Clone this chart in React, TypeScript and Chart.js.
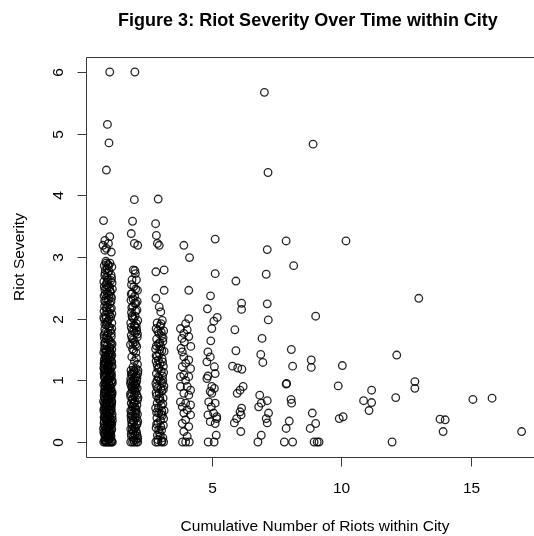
import React, { useEffect, useRef } from "react";
import { Chart, registerables } from "chart.js";

Chart.register(...registerables);

const chartTitle = "Figure 3: Riot Severity Over Time within City";
const xAxisTitle = "Cumulative Number of Riots within City";
const yAxisTitle = "Riot Severity";

const xTicks = [5, 10, 15];
const yTicks = [0, 1, 2, 3, 4, 5, 6];

// [cumulative riots (jittered), severity]
const firstRiot: [number, number][] = [
  [1.07, 6.0], [0.98, 5.15], [1.04, 4.85], [0.94, 4.41], [0.83, 3.59],
  [0.88, 3.27], [1.07, 3.33], [0.81, 3.19], [0.94, 3.14], [1.13, 3.08], [0.88, 3.11], [1.02, 3.22],
  [0.92, 2.93], [1.08, 2.9], [0.86, 2.86], [1.15, 2.84], [0.97, 2.81], [1.04, 2.77], [0.89, 2.74],
  [1.12, 2.71], [0.95, 2.67], [1.01, 2.63], [0.84, 2.6], [1.16, 2.58], [0.93, 2.55], [1.06, 2.51],
  [0.88, 2.47], [1.1, 2.44], [0.98, 2.41], [0.85, 2.37], [1.14, 2.34], [1.02, 2.31], [0.91, 2.27],
  [1.07, 2.24], [0.87, 2.2], [1.13, 2.17], [0.96, 2.13], [1.03, 2.1], [0.9, 2.06], [1.11, 2.03],
  [0.86, 1.99], [0.99, 1.96], [1.15, 1.93], [0.94, 1.9], [1.06, 1.86], [0.88, 1.83], [1.1, 1.8],
  [1.0, 1.77], [0.85, 1.74], [1.13, 1.71], [0.93, 1.68], [1.05, 1.65], [0.89, 1.62], [1.16, 1.59],
  [0.97, 1.56], [1.08, 1.53], [0.87, 1.51],
  [1.0, 2.88], [0.9, 2.79], [1.11, 2.62], [0.95, 2.49], [1.04, 2.38], [0.87, 2.29], [1.09, 2.15],
  [0.93, 2.01], [1.02, 1.87], [0.86, 1.69], [1.12, 1.57],
  [1.03, 2.86], [0.88, 2.7], [1.14, 2.66], [0.96, 2.59], [1.07, 2.45], [0.9, 2.4], [1.12, 2.28],
  [0.98, 2.22], [0.85, 2.12], [1.05, 2.0], [0.95, 1.94], [1.15, 1.84], [0.9, 1.78], [1.0, 1.66],
  [1.1, 1.62], [0.88, 1.56], [1.04, 1.52], [0.93, 2.9], [1.17, 2.48], [0.84, 2.02],
  [0.99, 2.74], [0.86, 2.52], [1.1, 2.36], [0.94, 2.18], [1.06, 2.07], [0.88, 1.91], [1.13, 1.76],
  [0.96, 1.72], [1.01, 2.53], [0.92, 2.33], [1.15, 2.08], [0.87, 1.6],
  [0.95, 1.49], [1.09, 1.47], [0.84, 1.45], [1.02, 1.43], [1.15, 1.41], [0.9, 1.39], [1.06, 1.37],
  [0.87, 1.35], [0.99, 1.33], [1.12, 1.31], [0.93, 1.29], [1.04, 1.27], [0.86, 1.25], [1.16, 1.23],
  [0.97, 1.21], [1.08, 1.19], [0.89, 1.17], [1.01, 1.15], [1.13, 1.13], [0.85, 1.11], [0.94, 1.09],
  [1.05, 1.07], [1.1, 1.05], [0.88, 1.03], [0.98, 1.01], [1.14, 0.99], [0.91, 0.97], [1.03, 0.95],
  [0.84, 0.93], [1.07, 0.91], [0.96, 0.89], [1.12, 0.87], [0.87, 0.85], [1.0, 0.83], [1.16, 0.81],
  [0.92, 0.79], [1.06, 0.77], [0.85, 0.75], [0.98, 0.73], [1.11, 0.71], [0.9, 0.69], [1.03, 0.67],
  [1.14, 0.65], [0.86, 0.63], [0.95, 0.61], [1.08, 0.59], [0.89, 0.57], [1.01, 0.55], [1.13, 0.53],
  [0.84, 0.51], [0.97, 0.49], [1.05, 0.47], [1.16, 0.45], [0.91, 0.43], [1.02, 0.41], [0.87, 0.39],
  [1.1, 0.37], [0.94, 0.35], [1.06, 0.33], [0.85, 0.31], [0.99, 0.29], [1.13, 0.27], [0.9, 0.25],
  [1.04, 0.23], [1.15, 0.21], [0.88, 0.19], [0.96, 0.17], [1.09, 0.15], [0.86, 0.13], [1.01, 0.11],
  [1.12, 0.09], [0.93, 0.07], [1.05, 0.05], [0.87, 0.03],
  [1.1, 1.44], [0.92, 1.36], [1.03, 1.26], [0.86, 1.18], [1.14, 1.08], [0.97, 1.0], [1.08, 0.92],
  [0.89, 0.82], [1.02, 0.74], [1.15, 0.66], [0.93, 0.56], [1.06, 0.48], [0.85, 0.4], [1.11, 0.32],
  [0.98, 0.24], [0.9, 0.14], [1.07, 0.06], [1.0, 1.24], [0.88, 0.96], [1.13, 0.58], [0.95, 0.36],
  [1.04, 0.16],
  [0.9, 1.48], [1.05, 1.42], [0.95, 1.34], [1.15, 1.3], [0.88, 1.28], [1.01, 1.2], [0.92, 1.14],
  [1.1, 1.1], [0.86, 1.06], [1.04, 1.02], [0.96, 0.98], [1.13, 0.94], [0.89, 0.9], [1.06, 0.86],
  [0.94, 0.84], [1.16, 0.78], [0.87, 0.72], [1.0, 0.7], [1.09, 0.64], [0.92, 0.62], [1.03, 0.58],
  [0.85, 0.54], [1.12, 0.5], [0.97, 0.46], [1.08, 0.42], [0.9, 0.38], [1.0, 0.34], [1.15, 0.3],
  [0.86, 0.26], [1.05, 0.2], [0.94, 0.18], [1.11, 0.12], [0.89, 0.08], [1.02, 0.04], [1.14, 0.02],
  [0.96, 0.6], [1.07, 0.8], [0.91, 1.12], [1.12, 1.38], [0.84, 1.2], [0.99, 0.44], [1.17, 0.96],
  [0.83, 0.66], [1.0, 0.1], [1.09, 0.52], [0.93, 1.46], [1.06, 1.16], [0.87, 0.46], [1.14, 0.74],
  [0.98, 0.86],
  [0.91, 1.41], [1.07, 1.33], [0.85, 1.27], [1.13, 1.22], [0.99, 1.18], [0.88, 1.08], [1.05, 1.04],
  [1.16, 1.0], [0.93, 0.94], [1.02, 0.88], [0.86, 0.8], [1.1, 0.76], [0.97, 0.68], [1.14, 0.62],
  [0.89, 0.6], [1.03, 0.52], [0.92, 0.48], [1.16, 0.4], [0.86, 0.34], [1.07, 0.28], [0.95, 0.22],
  [1.12, 0.18], [0.84, 0.16], [1.0, 0.13], [0.91, 0.02], [1.1, 0.27], [0.97, 0.39], [1.04, 0.62],
  [0.88, 0.7], [1.12, 0.82], [0.95, 0.93], [1.08, 1.12], [0.86, 1.32], [1.01, 1.4], [1.15, 1.5],
  [0.93, 0.02], [1.06, 0.1], [0.83, 0.22], [1.17, 0.35], [0.9, 0.52],
  [0.84, 0], [0.89, 0], [0.94, 0], [0.99, 0], [1.04, 0], [1.09, 0], [1.14, 0], [1.17, 0],
];

const secondRiot: [number, number][] = [
  [2.04, 6.0], [2.02, 3.93], [1.95, 3.58], [1.9, 3.38], [2.02, 3.22], [2.15, 3.19],
  [1.98, 2.79], [2.06, 2.73], [1.93, 2.63], [2.1, 2.63], [2.0, 2.52], [2.14, 2.46], [1.94, 2.41],
  [2.03, 2.36], [1.89, 2.3], [2.08, 2.25], [1.96, 2.2], [2.12, 2.14], [1.91, 2.1], [2.05, 2.04],
  [1.99, 2.0], [2.15, 1.97], [1.88, 1.93], [2.02, 1.89], [2.1, 1.85], [1.94, 1.81], [2.06, 1.77],
  [1.9, 1.73], [2.13, 1.7], [1.98, 1.66], [2.04, 1.62], [1.87, 1.58], [2.11, 1.55], [1.95, 1.51],
  [2.08, 1.45], [1.92, 1.38], [2.02, 1.31], [2.14, 1.26], [1.97, 1.22],
  [2.04, 2.78], [1.91, 2.55], [2.07, 2.48], [1.97, 2.32], [2.13, 2.28], [1.92, 2.18], [2.07, 2.12],
  [1.95, 2.02], [2.1, 1.92], [1.9, 1.86], [2.0, 1.8], [2.14, 1.75], [1.93, 1.68], [2.07, 1.58],
  [1.99, 1.48], [2.1, 1.36],
  [2.03, 2.25], [1.93, 2.04], [2.11, 1.8], [1.96, 1.6], [2.05, 1.88], [1.9, 2.4],
  [2.09, 1.19], [1.89, 1.16], [2.01, 1.14], [2.15, 1.11], [1.94, 1.08], [2.06, 1.05], [1.88, 1.02],
  [2.11, 0.99], [1.99, 0.96], [2.04, 0.93], [1.91, 0.9], [2.13, 0.87], [1.96, 0.84], [2.08, 0.81],
  [1.87, 0.78], [2.02, 0.75], [2.16, 0.72], [1.93, 0.69], [2.05, 0.66], [1.9, 0.63], [2.12, 0.6],
  [1.98, 0.57], [2.07, 0.54], [1.88, 0.51], [2.03, 0.48], [2.14, 0.45], [1.95, 0.42], [2.1, 0.39],
  [1.9, 0.36], [2.0, 0.33], [2.13, 0.3], [1.93, 0.27], [2.06, 0.24], [1.88, 0.21], [2.09, 0.18],
  [1.97, 0.15], [2.04, 0.12], [1.91, 0.09], [2.15, 0.06], [2.0, 0.03], [2.07, 0.9], [1.92, 0.5],
  [2.11, 0.28], [1.96, 0.7], [2.02, 1.03],
  [2.0, 1.17], [1.9, 1.1], [2.12, 1.04], [1.97, 1.0], [2.08, 0.95], [1.93, 0.88], [2.04, 0.83],
  [1.88, 0.74], [2.14, 0.68], [2.01, 0.64], [1.94, 0.58], [2.09, 0.52], [1.9, 0.45], [2.05, 0.4],
  [1.97, 0.35], [2.15, 0.34], [1.92, 0.3], [2.03, 0.22], [2.11, 0.14], [1.9, 0.13], [1.98, 0.07],
  [2.08, 0.04], [2.16, 1.16], [1.87, 0.95],
  [1.95, 1.12], [2.1, 1.08], [1.89, 0.98], [2.03, 0.86], [1.92, 0.8], [2.12, 0.76], [1.99, 0.62],
  [2.08, 0.47], [1.89, 0.42], [2.0, 0.18], [2.13, 0.1], [1.94, 0.2], [2.05, 0.56], [1.96, 0.92],
  [1.88, 0], [1.95, 0], [2.02, 0], [2.1, 0], [2.15, 0],
];

const thirdRiot: [number, number][] = [
  [2.94, 3.94], [2.84, 3.54], [2.87, 3.35], [2.91, 3.22], [2.98, 3.19], [2.85, 2.76], [3.17, 2.79],
  [3.17, 2.46], [2.85, 2.33], [2.98, 2.19], [3.04, 2.11],
  [3.1, 1.97], [2.9, 1.93], [3.02, 1.88], [2.86, 1.84], [3.15, 1.8], [2.97, 1.76], [3.07, 1.72],
  [2.88, 1.67], [3.12, 1.63], [2.95, 1.59], [3.04, 1.55], [2.84, 1.51], [3.17, 1.47], [2.99, 1.43],
  [2.9, 1.39], [3.09, 1.35], [2.86, 1.31], [3.01, 1.27], [3.14, 1.23], [2.93, 1.19], [3.06, 1.15],
  [2.87, 1.11], [3.11, 1.07], [2.97, 1.03], [3.03, 0.99], [2.85, 0.95], [3.16, 0.91], [2.92, 0.87],
  [3.08, 0.83], [2.98, 0.79], [2.88, 0.75], [3.13, 0.71], [3.02, 0.67], [2.9, 0.63], [3.06, 0.59],
  [2.84, 0.55], [3.17, 0.51], [2.96, 0.47], [3.1, 0.43], [2.89, 0.39], [3.03, 0.35], [2.93, 0.31],
  [3.14, 0.27], [2.86, 0.23], [3.07, 0.19], [2.99, 0.15], [2.91, 0.11], [3.12, 0.07], [3.0, 1.61],
  [2.94, 1.05], [3.05, 0.45], [2.88, 0.9], [3.11, 1.3], [2.96, 0.2],
  [3.05, 1.92], [2.92, 1.8], [3.13, 1.69], [2.87, 1.56], [3.08, 1.48], [2.95, 1.33], [3.15, 1.13],
  [2.9, 1.0], [3.05, 0.87], [2.86, 0.8], [3.12, 0.62], [2.95, 0.55], [3.15, 0.38], [2.88, 0.29],
  [3.04, 0.25], [2.92, 0.04], [3.09, 0.02], [3.0, 0.72], [2.97, 1.2], [3.1, 0.96],
  [3.0, 1.5], [2.9, 1.25], [3.12, 1.0], [2.95, 0.7], [3.08, 0.5], [2.88, 0.48], [3.02, 0.1],
  [3.14, 0.85], [2.86, 1.4], [3.06, 1.78],
  [2.85, 0], [2.93, 0], [3.07, 0], [3.15, 0],
];

const fourthRiot: [number, number][] = [
  [3.93, 3.19], [4.15, 2.99], [4.12, 2.46],
  [4.12, 2.0], [4.0, 1.92], [3.8, 1.84], [4.06, 1.82], [3.93, 1.76], [4.12, 1.71], [3.86, 1.68],
  [3.95, 1.62], [4.2, 1.55], [3.82, 1.52],
  [3.87, 1.46], [3.93, 1.38], [4.12, 1.33], [4.0, 1.28], [3.87, 1.22], [4.19, 1.19], [3.93, 1.09],
  [4.12, 1.06], [3.8, 1.06], [4.0, 1.0], [3.8, 0.9], [4.06, 0.9], [4.19, 0.84], [3.93, 0.79],
  [4.12, 0.76], [3.8, 0.65], [4.0, 0.63], [4.19, 0.6], [3.87, 0.57], [4.06, 0.52], [3.93, 0.47],
  [4.19, 0.44], [4.0, 0.36], [3.87, 0.3], [4.12, 0.25], [3.93, 0.17], [4.06, 0.09],
  [3.88, 0], [4.0, 0], [4.14, 0],
];

const fifthRiot: [number, number][] = [
  [5.14, 3.29], [5.14, 2.73], [4.96, 2.37], [4.84, 2.16], [5.22, 2.02], [5.09, 1.96], [5.01, 1.84],
  [4.97, 1.64], [4.86, 1.46], [4.95, 1.38], [4.82, 1.3], [5.11, 1.22], [5.14, 1.11], [4.86, 1.07],
  [4.82, 1.03], [5.01, 0.9], [5.11, 0.87], [4.95, 0.82], [5.01, 0.79], [4.89, 0.65], [5.14, 0.63],
  [4.99, 0.57], [5.08, 0.47], [4.86, 0.44], [5.2, 0.41], [5.2, 0.38], [4.95, 0.33], [5.14, 0.3],
  [5.18, 0.11], [4.87, 0], [5.1, 0],
];

const sixthRiot: [number, number][] = [
  [5.94, 2.61], [6.16, 2.25], [6.16, 2.15], [5.9, 1.82], [5.94, 1.48], [5.81, 1.23], [6.01, 1.2],
  [6.17, 1.18], [6.22, 0.9], [6.1, 0.84], [5.99, 0.79], [6.16, 0.55], [6.1, 0.49], [6.14, 0.44],
  [5.97, 0.38], [5.88, 0.31], [6.13, 0.17],
];

const seventhRiot: [number, number][] = [
  [7.04, 5.67], [7.18, 4.37], [7.15, 3.12], [7.11, 2.72], [7.15, 2.24], [7.19, 1.98], [6.95, 1.68],
  [6.9, 1.42], [6.98, 1.29], [6.86, 0.76], [7.15, 0.67], [6.92, 0.63], [6.82, 0.57], [7.2, 0.47],
  [7.11, 0.38], [7.15, 0.31], [6.92, 0.11], [6.79, 0],
];

const laterRiots: [number, number][] = [
  [7.88, 3.26], [8.17, 2.86], [8.08, 1.5], [8.13, 1.23], [7.88, 0.94], [7.9, 0.95], [8.07, 0.69],
  [8.09, 0.63], [8.0, 0.34], [7.88, 0.22], [7.81, 0], [8.13, 0],
  [8.92, 4.83], [9.02, 2.04], [8.85, 1.33], [8.85, 1.21], [8.89, 0.47], [9.02, 0.3], [8.81, 0.22],
  [8.96, 0], [9.08, 0], [9.15, 0],
  [10.19, 3.26], [10.05, 1.24], [9.89, 0.91], [9.93, 0.38], [10.08, 0.41],
  [11.18, 0.84], [10.87, 0.67], [11.18, 0.64], [11.08, 0.51],
  [12.15, 1.41], [12.11, 0.72], [11.97, 0],
  [13.0, 2.33], [12.85, 0.98], [12.85, 0.87],
  [13.82, 0.37], [14.02, 0.36], [13.94, 0.17],
  [15.09, 0.69], [15.83, 0.71], [16.97, 0.17],
];

const allRiots = [
  ...firstRiot, ...secondRiot, ...thirdRiot, ...fourthRiot,
  ...fifthRiot, ...sixthRiot, ...seventhRiot, ...laterRiots,
];

const W = 534;
const H = 536;
const sans = '"Liberation Sans", Arial, Helvetica, sans-serif';

const framePlugin = {
  id: "baseFrame",
  afterDraw(chart: any) {
    const { ctx, chartArea: a, scales } = chart;
    const xs = scales.x;
    const ys = scales.y;
    ctx.save();
    // plot box (right side runs off the canvas)
    ctx.strokeStyle = "#3a3a3a";
    ctx.lineWidth = 1;
    ctx.beginPath();
    ctx.moveTo(W + 2, a.top + 0.5);
    ctx.lineTo(a.left + 0.5, a.top + 0.5);
    ctx.lineTo(a.left + 0.5, a.bottom + 0.5);
    ctx.lineTo(W + 2, a.bottom + 0.5);
    ctx.stroke();

    // y axis ticks + rotated labels
    ctx.fillStyle = "#000";
    ctx.font = `15.5px ${sans}`;
    for (const v of yTicks) {
      const py = Math.round(ys.getPixelForValue(v)) + 0.5;
      ctx.beginPath();
      ctx.moveTo(a.left + 0.5, py);
      ctx.lineTo(a.left - 8.5, py);
      ctx.stroke();
      ctx.save();
      ctx.translate(63, py);
      ctx.rotate(-Math.PI / 2);
      ctx.textAlign = "center";
      ctx.textBaseline = "alphabetic";
      ctx.fillText(String(v), 0, 0);
      ctx.restore();
    }

    // x axis ticks + labels
    for (const v of xTicks) {
      const px = Math.round(xs.getPixelForValue(v)) + 0.5;
      ctx.beginPath();
      ctx.moveTo(px, a.bottom + 0.5);
      ctx.lineTo(px, a.bottom + 9.5);
      ctx.stroke();
      ctx.textAlign = "center";
      ctx.textBaseline = "alphabetic";
      ctx.fillText(String(v), px, 493);
    }

    // axis titles
    ctx.textAlign = "center";
    ctx.fillText(xAxisTitle, 315, 531);
    ctx.save();
    ctx.translate(24, (a.top + a.bottom) / 2);
    ctx.rotate(-Math.PI / 2);
    ctx.fillText(yAxisTitle, 0, 0);
    ctx.restore();

    // main title
    ctx.font = `bold 18px ${sans}`;
    ctx.fillText(chartTitle, 308, 26);
    ctx.restore();
  },
};

export default function App() {
  const ref = useRef<HTMLCanvasElement | null>(null);

  useEffect(() => {
    if (!ref.current) return;
    const chart = new Chart(ref.current, {
      type: "scatter",
      data: {
        datasets: [
          {
            data: allRiots.map(([x, y]) => ({ x, y })),
            pointRadius: 3.8,
            pointHoverRadius: 3.8,
            pointBorderWidth: 1.3,
            pointBorderColor: "rgba(0,0,0,0.85)",
            pointBackgroundColor: "rgba(0,0,0,0)",
            showLine: false,
          },
        ],
      },
      options: {
        animation: false,
        responsive: false,
        devicePixelRatio: 1,
        events: [],
        layout: { padding: { left: 86, top: 57, right: 0, bottom: H - 457 } },
        plugins: { legend: { display: false }, tooltip: { enabled: false }, title: { display: false } },
        scales: {
          x: { type: "linear", min: 0.153, max: 17.252, display: false },
          y: { type: "linear", min: -0.243, max: 6.243, display: false },
        },
      },
      plugins: [framePlugin],
    });
    return () => chart.destroy();
  }, []);

  return (
    <div style={{ position: "fixed", left: 0, top: 0, width: W, height: H, background: "#fff" }}>
      <canvas ref={ref} width={W} height={H} style={{ display: "block", width: W, height: H }} />
    </div>
  );
}
